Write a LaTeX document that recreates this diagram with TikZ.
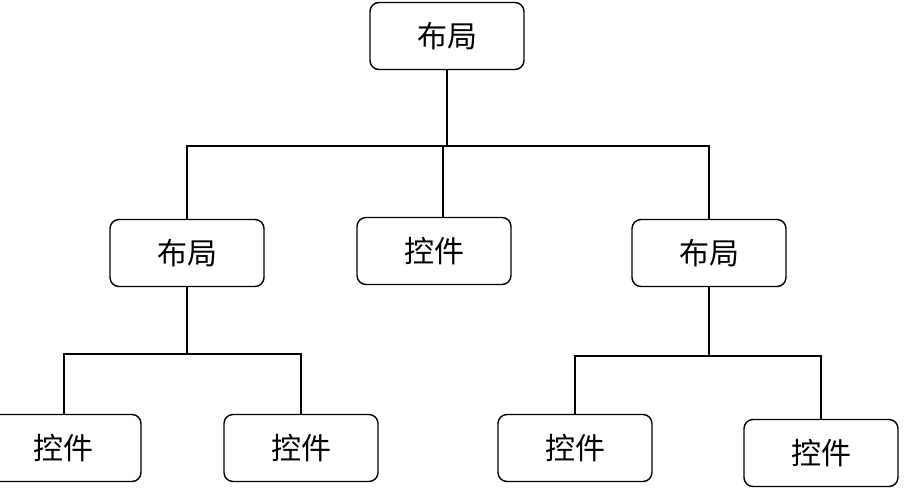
\documentclass[tikz,border=0pt]{standalone}
\usepackage{fontspec}
\newfontfamily\cjk{Noto Sans CJK SC}
\begin{document}
\begin{tikzpicture}[x=1pt,y=-1pt,
  box/.style={draw,line width=1.4pt,rounded corners=9pt,minimum width=154pt,minimum height=67pt,font=\cjk\fontsize{30}{32}\selectfont,inner sep=0pt},
  ln/.style={line width=1.4pt}]
\useasboundingbox (0,0) rectangle (905,491);
\clip (0,0) rectangle (905,491);
\node[box] (t) at (447,36) {布局};
\node[box] (l) at (187,253) {布局};
\node[box] (c) at (434,251) {控件};
\node[box] (r) at (709,253) {布局};
\node[box] (b1) at (64,448) {控件};
\node[box] (b2) at (301,448) {控件};
\node[box] (b3) at (575,448) {控件};
\node[box] (b4) at (821,453) {控件};
\coordinate (j0) at (447,146);
\coordinate (j1) at (187,354);
\coordinate (j2) at (709,356);
\draw[ln] (t.south) -- (j0);
\draw[ln] (l.north) -- (l.north |- j0) -- (r.north |- j0) -- (r.north);
\draw[ln] (c.north -| j0) ++(-4,0) -- ++(0,-71);
\draw[ln] (l.south) -- (j1);
\draw[ln] (b1.north) -- (b1.north |- j1) -- (b2.north |- j1) -- (b2.north);
\draw[ln] (r.south) -- (j2);
\draw[ln] (b3.north) -- (b3.north |- j2) -- (b4.north |- j2) -- (b4.north);
\end{tikzpicture}
\end{document}
